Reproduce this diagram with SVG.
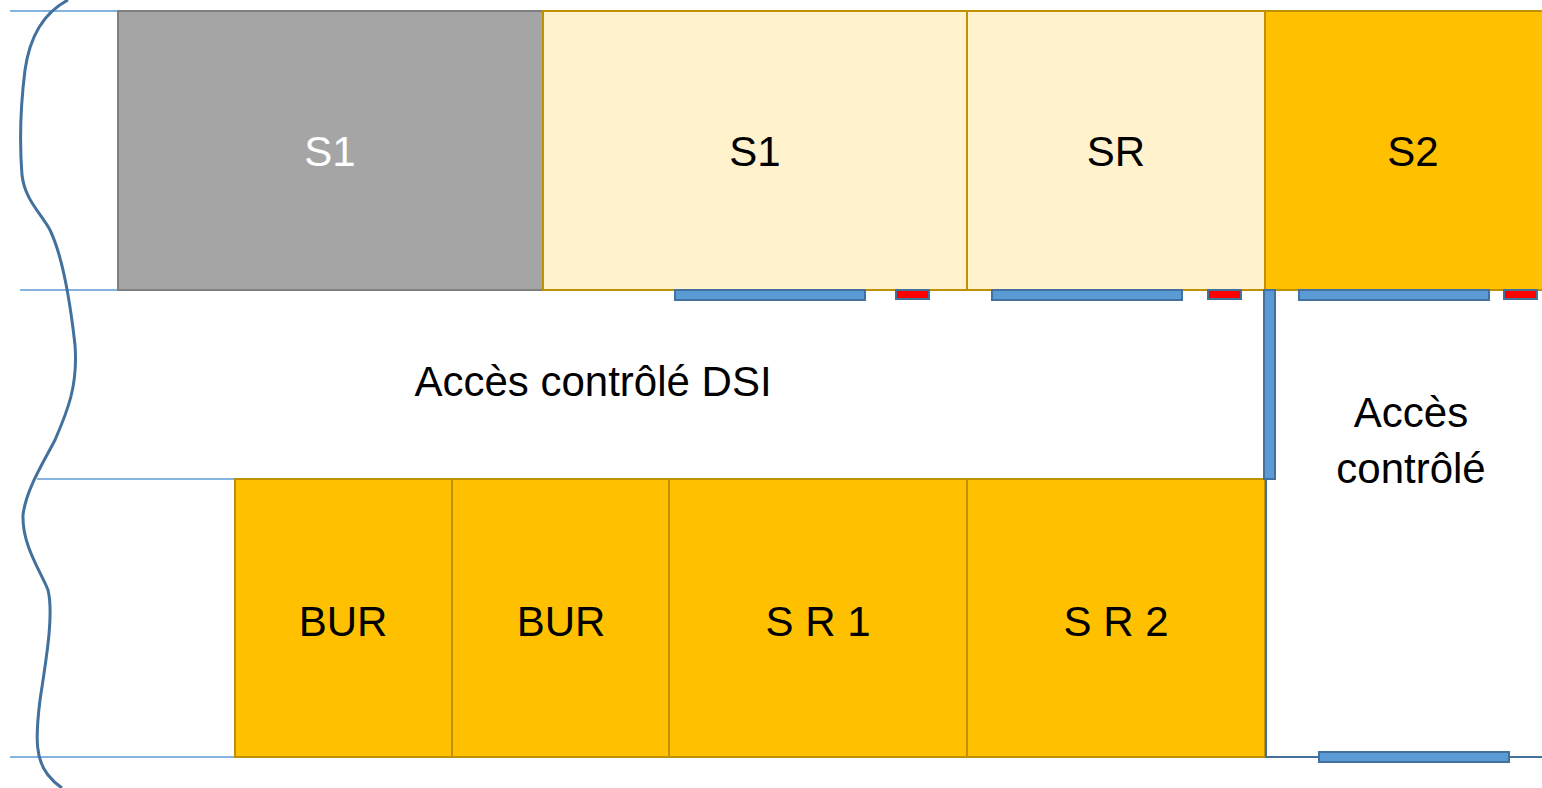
<svg xmlns="http://www.w3.org/2000/svg" width="1542" height="788" viewBox="0 0 1542 788">
<style>
.t{font-family:"Liberation Sans",Arial,sans-serif;font-size:42px;text-anchor:middle;fill:#000}
.w{fill:#fff}
.gray{fill:#A5A5A5;stroke:#7F7F7F;stroke-width:2}
.light{fill:#FFF2CC;stroke:#BF9000;stroke-width:2}
.orange{fill:#FFC000;stroke:#BF9000;stroke-width:2}
.bar{fill:#5B9BD5;stroke:#41719C;stroke-width:2}
.red{fill:#FF0000;stroke:#41719C;stroke-width:2}
.thin{stroke:#5B9BD5;stroke-width:1.5;fill:none}
.wall{stroke:#41719C;stroke-width:2;fill:none}
.brace{stroke:#41719C;stroke-width:3;fill:none}
</style>
<rect width="1542" height="788" fill="#fff"/>
<g id="guides">
<line class="thin" x1="10" y1="11" x2="118" y2="11"/>
<line class="thin" x1="20" y1="290" x2="118" y2="290"/>
<line class="thin" x1="37" y1="479" x2="235" y2="479"/>
<line class="thin" x1="10" y1="757" x2="235" y2="757"/>
</g>
<g id="brace">
<path class="brace" d="M68,0 C45,12 30,35 25,70 C20,110 20,150 22,175 C25,200 40,212 50,230 C62,255 70,300 75,345 C78,385 68,410 55,440 C42,465 26,490 23,515 C22,545 40,570 48,590 C54,615 46,660 40,700 C35,740 36,760 48,775 C52,780 56,784 62,788"/>
</g>
<g id="node-s1-gray"><rect class="gray" x="118" y="11" width="425" height="279"/><text class="t w" x="330" y="166">S1</text></g>
<g id="node-s1"><rect class="light" x="543" y="11" width="424" height="279"/><text class="t" x="755" y="166">S1</text></g>
<g id="node-sr"><rect class="light" x="967" y="11" width="298" height="279"/><text class="t" x="1116" y="166">SR</text></g>
<g id="node-s2"><rect class="orange" x="1265" y="11" width="290" height="279"/><text class="t" x="1413" y="166">S2</text></g>
<g id="node-dsi"><text class="t" x="593" y="396">Accès contrôlé DSI</text></g>
<g id="node-acces"><text class="t" x="1411" y="427">Accès</text><text class="t" x="1411" y="483">contrôlé</text></g>
<g id="node-bur1"><rect class="orange" x="235" y="479" width="217" height="278"/><text class="t" x="343" y="636">BUR</text></g>
<g id="node-bur2"><rect class="orange" x="452" y="479" width="217" height="278"/><text class="t" x="561" y="636">BUR</text></g>
<g id="node-sr1"><rect class="orange" x="669" y="479" width="298" height="278"/><text class="t" x="818" y="636">S R 1</text></g>
<g id="node-sr2"><rect class="orange" x="967" y="479" width="298" height="278"/><text class="t" x="1116" y="636">S R 2</text></g>
<g id="connectors">
<polyline class="wall" points="1266,479 1266,757 1542,757"/>
<rect class="bar" x="1264" y="290" width="11" height="189"/>
<rect class="bar" x="675" y="290" width="190" height="10"/>
<rect class="red" x="896" y="290" width="33" height="9"/>
<rect class="bar" x="992" y="290" width="190" height="10"/>
<rect class="red" x="1208" y="290" width="33" height="9"/>
<rect class="bar" x="1299" y="290" width="190" height="10"/>
<rect class="red" x="1504" y="290" width="33" height="9"/>
<rect class="bar" x="1319" y="752" width="190" height="10"/>
</g>
</svg>
